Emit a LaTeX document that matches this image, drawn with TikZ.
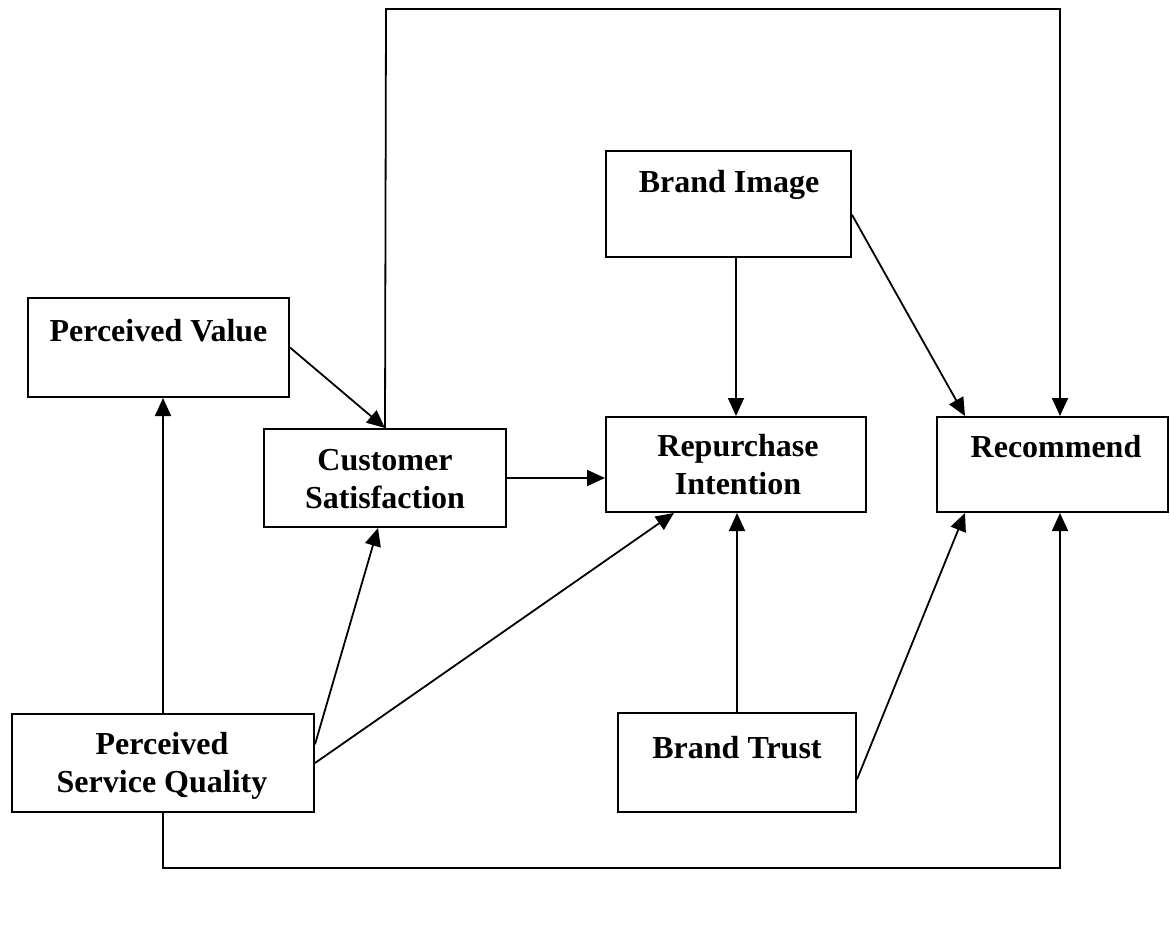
\documentclass[tikz,border=0pt]{standalone}
\usepackage{fontspec}
\setmainfont{Liberation Serif}
\usetikzlibrary{arrows.meta}
\begin{document}
\begin{tikzpicture}[x=0.5pt, y=-0.5pt,
    box/.style={draw, line width=1pt, inner sep=0pt},
    lbl/.style={font=\fontsize{16}{19}\selectfont\bfseries, anchor=base, align=center, inner sep=0pt},
    arr/.style={-{Triangle[length=9pt,width=8pt]}, line width=0.9pt}]
  \useasboundingbox (0,0) rectangle (1170,926);
  % boxes
  \node[box, minimum width=130.5pt, minimum height=49.5pt] (pv) at (158.5,347.5) {};
  \node[box, minimum width=121pt, minimum height=49pt] (cs) at (385,478) {};
  \node[box, minimum width=122.5pt, minimum height=53pt] (bi) at (728.5,204) {};
  \node[box, minimum width=130pt, minimum height=47.5pt] (ri) at (736,464.5) {};
  \node[box, minimum width=115.5pt, minimum height=47.5pt] (rec) at (1052.5,464.5) {};
  \node[box, minimum width=151pt, minimum height=49pt] (psq) at (163,763) {};
  \node[box, minimum width=119pt, minimum height=49.5pt] (bt) at (737,762.5) {};
  % labels (multi-line ones sit on the last baseline)
  \node[lbl] (pv-t) at (158.5,341) {Perceived Value};
  \node[lbl] (cs-t) at (385,508) {Customer\\Satisfaction};
  \node[lbl] (bi-t) at (729,192) {Brand Image};
  \node[lbl] (ri-t) at (738,494) {Repurchase\\Intention};
  \node[lbl] (rec-t) at (1056,457) {Recommend};
  \node[lbl] (psq-t) at (162,792) {Perceived\\Service Quality};
  \node[lbl] (bt-t) at (737,758) {Brand Trust};
  % loops
  \coordinate (topl) at (386,9);
  \coordinate (topr) at (1060,9);
  \coordinate (botl) at (163,868);
  \coordinate (botr) at (1060,868);
  \draw[arr] (cs.north) -- (topl) -- (topr) -- (topr |- rec.north);
  \draw[arr] (psq.south) -- (botl) -- (botr) -- (botr |- rec.south);
  % paths
  \draw[arr] (pv.east) -- (cs.north);
  \draw[arr] (bi.south -| ri.north) -- (ri.north);
  \draw[arr] (bi.-5) -- (rec.151);
  \draw[arr] (cs.east) -- (cs.east -| ri.west);
  \draw[arr] (psq.north) -- (pv.south -| psq.north);
  \draw[arr] (psq.7.5) -- (cs.262);
  \draw[arr] (psq.east) -- (ri.218);
  \draw[arr] (bt.north) -- (bt.north |- ri.south);
  \draw[arr] (bt.-8) -- (rec.209);
\end{tikzpicture}
\end{document}
